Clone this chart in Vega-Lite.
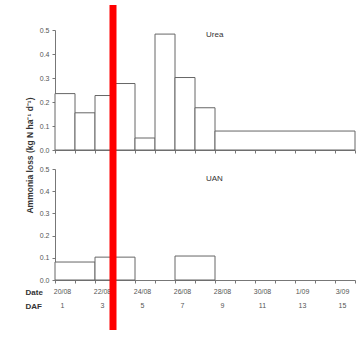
{
  "$schema": "https://vega.github.io/schema/vega-lite/v6.json",
  "padding": {"left": 25, "top": 1, "right": 1, "bottom": 5},
  "background": "white",
  "spacing": 19,
  "bounds": "flush",
  "datasets": {
    "urea": [
      {"start": 0, "end": 1, "loss": 0.235},
      {"start": 1, "end": 2, "loss": 0.155},
      {"start": 2, "end": 3, "loss": 0.227},
      {"start": 3, "end": 4, "loss": 0.277},
      {"start": 4, "end": 5, "loss": 0.05},
      {"start": 5, "end": 6, "loss": 0.483},
      {"start": 6, "end": 7, "loss": 0.302},
      {"start": 7, "end": 8, "loss": 0.176},
      {"start": 8, "end": 15, "loss": 0.079}
    ],
    "uan": [
      {"start": 0, "end": 2, "loss": 0.081},
      {"start": 2, "end": 4, "loss": 0.103},
      {"start": 6, "end": 8, "loss": 0.108}
    ]
  },
  "vconcat": [
    {
      "width": 300,
      "height": 120,
      "layer": [
        {
          "data": {"name": "urea"},
          "mark": {"type": "rect", "fill": "white", "stroke": "#666", "strokeWidth": 1},
          "encoding": {
            "x": {"field": "start", "type": "quantitative",
              "scale": {"domain": [0, 15], "nice": false, "zero": false},
              "axis": {"values": [0,1,2,3,4,5,6,7,8,9,10,11,12,13,14,15], "labels": false, "title": null, "tickSize": 3}},
            "x2": {"field": "end"},
            "y": {"field": "loss", "type": "quantitative",
              "scale": {"domain": [0, 0.5], "nice": false},
              "axis": {"values": [0, 0.1, 0.2, 0.3, 0.4, 0.5], "tickCount": 6, "format": ".1f", "tickSize": 3, "labelPadding": 3, "labelOverlap": false,
                "title": "Ammonia loss (kg N ha⁻¹ d⁻¹)", "titleX": -21, "titleY": 125, "titleAngle": -90,
                "titleAlign": "center", "titleBaseline": "bottom", "titleFontSize": 8.5, "titleFontWeight": "bold", "titleColor": "#333"}},
            "y2": {"datum": 0}
          }
        },
        {
          "data": {"values": [{"label": "Urea"}]},
          "mark": {"type": "text", "align": "left", "baseline": "middle", "fontSize": 8, "color": "#333"},
          "encoding": {
            "x": {"datum": 7.55, "type": "quantitative",
              "axis": {"values": [0,1,2,3,4,5,6,7,8,9,10,11,12,13,14,15], "labels": false, "title": null, "tickSize": 3}},
            "y": {"datum": 0.479, "type": "quantitative",
              "axis": {"values": [0, 0.1, 0.2, 0.3, 0.4, 0.5], "tickCount": 6, "format": ".1f", "tickSize": 3, "labelPadding": 3, "labelOverlap": false,
                "title": "Ammonia loss (kg N ha⁻¹ d⁻¹)", "titleX": -21, "titleY": 125, "titleAngle": -90,
                "titleAlign": "center", "titleBaseline": "bottom", "titleFontSize": 8.5, "titleFontWeight": "bold", "titleColor": "#333"}},
            "text": {"field": "label"}
          }
        }
      ]
    },
    {
      "width": 300,
      "height": 111,
      "layer": [
        {
          "data": {"name": "uan"},
          "mark": {"type": "rect", "fill": "white", "stroke": "#666", "strokeWidth": 1},
          "encoding": {
            "x": {"field": "start", "type": "quantitative",
              "scale": {"domain": [0, 15], "nice": false, "zero": false},
              "axis": {"values": [0,1,2,3,4,5,6,7,8,9,10,11,12,13,14,15], "tickSize": 3, "labelPadding": 4,
                "labelFlush": false, "labelOverlap": false, "labelLineHeight": 14, "labelBaseline": "top", "labelAlign": "center", "labelOffset": 7, "labelFontSize": 7,
                "labelExpr": "datum.value % 2 == 1 ? '' : [datum.value < 12 ? (20 + datum.value) + '/08' : (datum.value - 11) + '/09', '' + (datum.value + 1)]",
                "title": ["Date", "DAF"], "titleX": -30, "titleY": 8, "titleAlign": "left", "titleBaseline": "top",
                "titleLineHeight": 14, "titleFontSize": 8, "titleFontWeight": "bold", "titleColor": "#333"}},
            "x2": {"field": "end"},
            "y": {"field": "loss", "type": "quantitative",
              "scale": {"domain": [0, 0.5], "nice": false},
              "axis": {"values": [0, 0.1, 0.2, 0.3, 0.4, 0.5], "tickCount": 6, "format": ".1f", "tickSize": 3, "labelPadding": 3, "labelOverlap": false, "title": null}},
            "y2": {"datum": 0}
          }
        },
        {
          "data": {"values": [{"label": "UAN"}]},
          "mark": {"type": "text", "align": "left", "baseline": "middle", "fontSize": 8, "color": "#333"},
          "encoding": {
            "x": {"datum": 7.55, "type": "quantitative",
              "axis": {"values": [0,1,2,3,4,5,6,7,8,9,10,11,12,13,14,15], "tickSize": 3, "labelPadding": 4,
                "labelFlush": false, "labelOverlap": false, "labelLineHeight": 14, "labelBaseline": "top", "labelAlign": "center", "labelOffset": 7, "labelFontSize": 7,
                "labelExpr": "datum.value % 2 == 1 ? '' : [datum.value < 12 ? (20 + datum.value) + '/08' : (datum.value - 11) + '/09', '' + (datum.value + 1)]",
                "title": ["Date", "DAF"], "titleX": -30, "titleY": 8, "titleAlign": "left", "titleBaseline": "top",
                "titleLineHeight": 14, "titleFontSize": 8, "titleFontWeight": "bold", "titleColor": "#333"}},
            "y": {"datum": 0.455, "type": "quantitative",
              "axis": {"values": [0, 0.1, 0.2, 0.3, 0.4, 0.5], "tickCount": 6, "format": ".1f", "tickSize": 3, "labelPadding": 3, "labelOverlap": false, "title": null}},
            "text": {"field": "label"}
          }
        },
        {
          "data": {"values": [{"label": "marker"}]},
          "mark": {"type": "rule", "color": "#ff0000", "strokeWidth": 7},
          "encoding": {
            "x": {"datum": 2.9, "type": "quantitative",
              "axis": {"values": [0,1,2,3,4,5,6,7,8,9,10,11,12,13,14,15], "tickSize": 3, "labelPadding": 4,
                "labelFlush": false, "labelOverlap": false, "labelLineHeight": 14, "labelBaseline": "top", "labelAlign": "center", "labelOffset": 7, "labelFontSize": 7,
                "labelExpr": "datum.value % 2 == 1 ? '' : [datum.value < 12 ? (20 + datum.value) + '/08' : (datum.value - 11) + '/09', '' + (datum.value + 1)]",
                "title": ["Date", "DAF"], "titleX": -30, "titleY": 8, "titleAlign": "left", "titleBaseline": "top",
                "titleLineHeight": 14, "titleFontSize": 8, "titleFontWeight": "bold", "titleColor": "#333"}},
            "y": {"datum": 1.239, "type": "quantitative",
              "axis": {"values": [0, 0.1, 0.2, 0.3, 0.4, 0.5], "tickCount": 6, "format": ".1f", "tickSize": 3, "labelPadding": 3, "labelOverlap": false, "title": null}},
            "y2": {"datum": -0.225}
          }
        }
      ]
    }
  ],
  "config": {
    "view": {"stroke": null},
    "axis": {
      "grid": false,
      "labelFont": "Liberation Sans",
      "titleFont": "Liberation Sans",
      "labelFontSize": 7,
      "labelColor": "#555",
      "domainColor": "#777",
      "tickColor": "#777"
    },
    "text": {"font": "Liberation Sans"}
  }
}
